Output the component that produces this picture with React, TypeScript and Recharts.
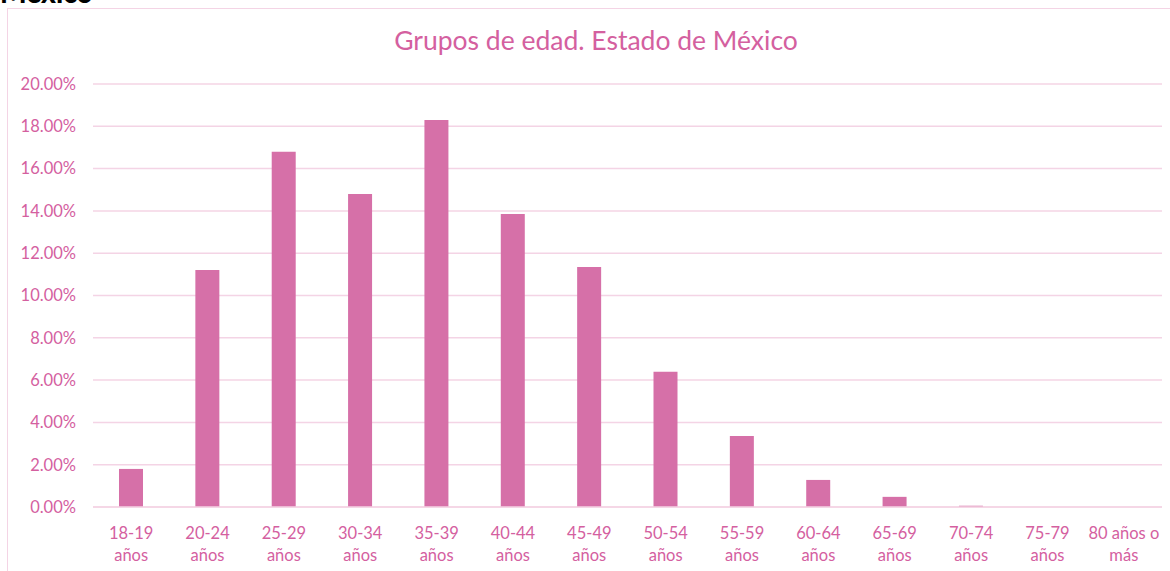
import { BarChart, Bar, XAxis, YAxis, CartesianGrid } from 'recharts';

const categories = [
    '18-19 años', '20-24 años', '25-29 años', '30-34 años', '35-39 años', '40-44 años', '45-49 años',
    '50-54 años', '55-59 años', '60-64 años', '65-69 años', '70-74 años', '75-79 años', '80 años o más',
];
const shares = [1.8, 11.2, 16.8, 14.8, 18.3, 13.85, 11.35, 6.4, 3.36, 1.28, 0.48, 0.06, 0.0, 0.0];
const yTicks = [0, 2, 4, 6, 8, 10, 12, 14, 16, 18, 20];

const data = categories.map((name, i) => ({ name, value: shares[i] }));

const PINK = '#D670A8';
const TEXT = '#D4609F';
const GRID = '#F4D4E5';
const FONT = 'Lato, "Open Sans", sans-serif';

function CategoryTick({ x, y, payload }: any) {
    const label: string = payload.value;
    const cut = label.lastIndexOf(' ');
    const lines = [label.slice(0, cut), label.slice(cut + 1)];
    return (
        <text x={x} y={y} textAnchor="middle" fill={TEXT} fontSize={16.5} fontFamily={FONT}>
            {lines.map((l, i) => (
                <tspan key={i} x={x} dy={i === 0 ? 24 : 22}>{l}</tspan>
            ))}
        </text>
    );
}

export default function App() {
    return (
        <div style={{ position: 'absolute', left: 0, top: 0, width: 1170, height: 571, overflow: 'hidden', background: '#fff' }}>
            <div style={{ position: 'absolute', left: 0, top: -25, fontFamily: FONT, fontWeight: 900, fontSize: 28, color: '#000' }}>México</div>
            <div style={{ position: 'absolute', left: 7, top: 8, width: 1200, height: 600, border: `1.5px solid ${GRID}`, boxSizing: 'border-box' }} />
            <div style={{ position: 'absolute', left: 0, top: 24, width: 1192, textAlign: 'center', fontFamily: FONT, fontSize: 26.5, color: TEXT }}>
                Grupos de edad. Estado de México
            </div>
            <BarChart width={1170} height={571} data={data} margin={{ top: 84, right: 8, bottom: 0, left: 0 }} style={{ position: 'absolute', left: 0, top: 0 }}>
                <CartesianGrid vertical={false} stroke={GRID} strokeWidth={1.5} />
                <XAxis dataKey="name" interval={0} height={64} axisLine={{ stroke: GRID, strokeWidth: 1.5 }} tickLine={false} tick={<CategoryTick />} />
                <YAxis width={93} domain={[0, 20]} ticks={yTicks} axisLine={false} tickLine={false} tickMargin={11}
                    tickFormatter={(v: number) => `${v.toFixed(2)}%`}
                    tick={{ fill: TEXT, fontSize: 16.5, fontFamily: FONT }} />
                <Bar dataKey="value" fill={PINK} barSize={24} isAnimationActive={false} />
            </BarChart>
        </div>
    );
}
